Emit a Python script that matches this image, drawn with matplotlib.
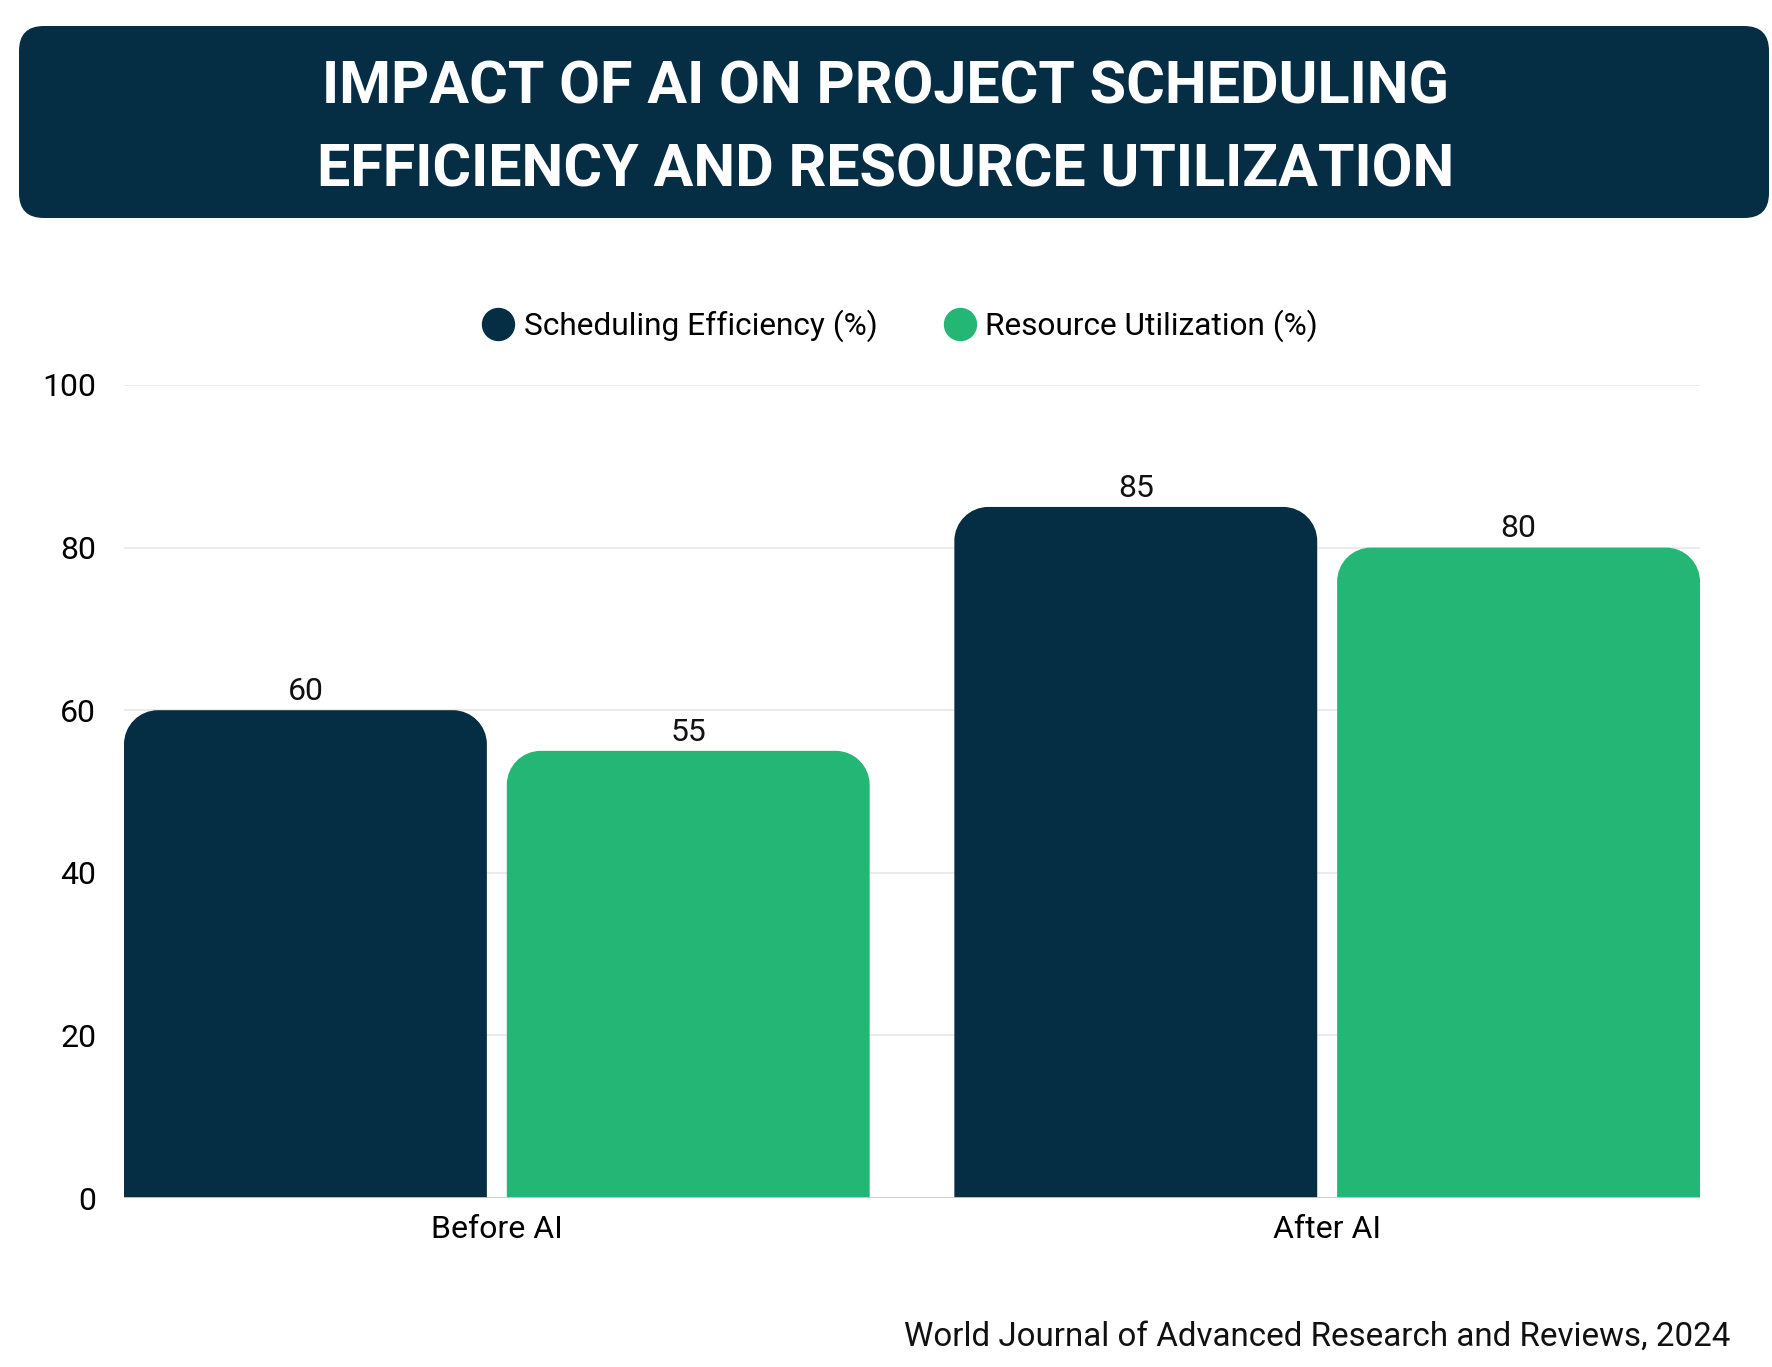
import matplotlib
matplotlib.use("Agg")
import matplotlib.pyplot as plt
from matplotlib.patches import FancyBboxPatch, PathPatch
from matplotlib.path import Path
from matplotlib.lines import Line2D
import numpy as np

categories = ["Before AI", "After AI"]
scheduling = [60, 85]
resource = [55, 80]
series_names = ["Scheduling Efficiency (%)", "Resource Utilization (%)"]
yticks = [0, 20, 40, 60, 80, 100]

NAVY = "#052d44"
GREEN = "#24b675"

plt.rcParams['font.family'] = ['Roboto', 'DejaVu Sans']

fig = plt.figure(figsize=(17.72, 13.67), dpi=100)
ax = fig.add_axes([124 / 1772, 1 - 1198 / 1367, (1700 - 124) / 1772, (1198 - 385) / 1367])

x = np.arange(len(categories))
w = 0.437
gap = 0.024
bars1 = ax.bar(x - w / 2 - gap / 2, scheduling, w, color=NAVY, zorder=3)
bars2 = ax.bar(x + w / 2 + gap / 2, resource, w, color=GREEN, zorder=3)

ax.set_xlim(-w - gap / 2, len(categories) - 1 + w + gap / 2)
ax.set_ylim(0, 100)
ax.set_yticks(yticks)
ax.set_xticks(x)
ax.set_xticklabels(categories)
ax.tick_params(length=0, labelsize=23, pad=12)
ax.tick_params(axis='y', pad=20)
for s in ax.spines.values():
    s.set_visible(False)
ax.grid(axis='y', color='#e8e8e8', linewidth=1.2, zorder=0)
ax.axhline(0, color='#cccccc', linewidth=2, zorder=4)


def round_top(rect, color, r_px=34):
    # replace a bar with one that has rounded top corners
    x0, y0 = rect.get_x(), rect.get_y()
    bw, bh = rect.get_width(), rect.get_height()
    sx = ax.transData.transform((1, 0))[0] - ax.transData.transform((0, 0))[0]
    sy = ax.transData.transform((0, 1))[1] - ax.transData.transform((0, 0))[1]
    rx, ry = r_px / sx, r_px / sy
    x1, y1 = x0 + bw, y0 + bh
    k = 0.5523
    verts = [(x0, y0), (x0, y1 - ry),
             (x0, y1 - ry + k * ry), (x0 + rx - k * rx, y1), (x0 + rx, y1),
             (x1 - rx, y1),
             (x1 - rx + k * rx, y1), (x1, y1 - ry + k * ry), (x1, y1 - ry),
             (x1, y0), (x0, y0)]
    codes = [Path.MOVETO, Path.LINETO,
             Path.CURVE4, Path.CURVE4, Path.CURVE4,
             Path.LINETO,
             Path.CURVE4, Path.CURVE4, Path.CURVE4,
             Path.LINETO, Path.CLOSEPOLY]
    rect.set_visible(False)
    ax.add_patch(PathPatch(Path(verts, codes), facecolor=color, edgecolor='none', zorder=3))


for rect in bars1:
    round_top(rect, NAVY)
for rect in bars2:
    round_top(rect, GREEN)

for bars, vals in ((bars1, scheduling), (bars2, resource)):
    for rect, v in zip(bars, vals):
        ax.annotate(str(v), (rect.get_x() + rect.get_width() / 2, v),
                    xytext=(0, 3), textcoords='offset points',
                    ha='center', va='bottom', fontsize=23, color='#111111')

# title banner
banner = FancyBboxPatch((19 / 1772, 1 - 218 / 1367), (1769 - 19) / 1772, (218 - 26) / 1367,
                        boxstyle="round,pad=0,rounding_size=0.014",
                        transform=fig.transFigure, facecolor=NAVY, edgecolor='none',
                        mutation_aspect=1772 / 1367)
fig.patches.append(banner)
fig.text(0.5, 1 - 129 / 1367, "IMPACT OF AI ON PROJECT SCHEDULING\nEFFICIENCY AND RESOURCE UTILIZATION",
         ha='center', va='center', color='white', fontsize=42.7, fontweight='bold',
         linespacing=1.62)

handles = [Line2D([], [], marker='o', linestyle='', markersize=23, color=NAVY),
           Line2D([], [], marker='o', linestyle='', markersize=23, color=GREEN)]
fig.legend(handles, series_names, loc='center', bbox_to_anchor=(0.508, 1 - 326 / 1367),
           ncol=2, frameon=False, fontsize=22.8, handletextpad=0.3, columnspacing=2.1,
           handlelength=1.0)

fig.text(1730 / 1772, 1 - 1337 / 1367, "World Journal of Advanced Research and Reviews, 2024",
         ha='right', va='center', fontsize=23.9, color='#111111')

fig.savefig("out.png", dpi=100, facecolor='white')
